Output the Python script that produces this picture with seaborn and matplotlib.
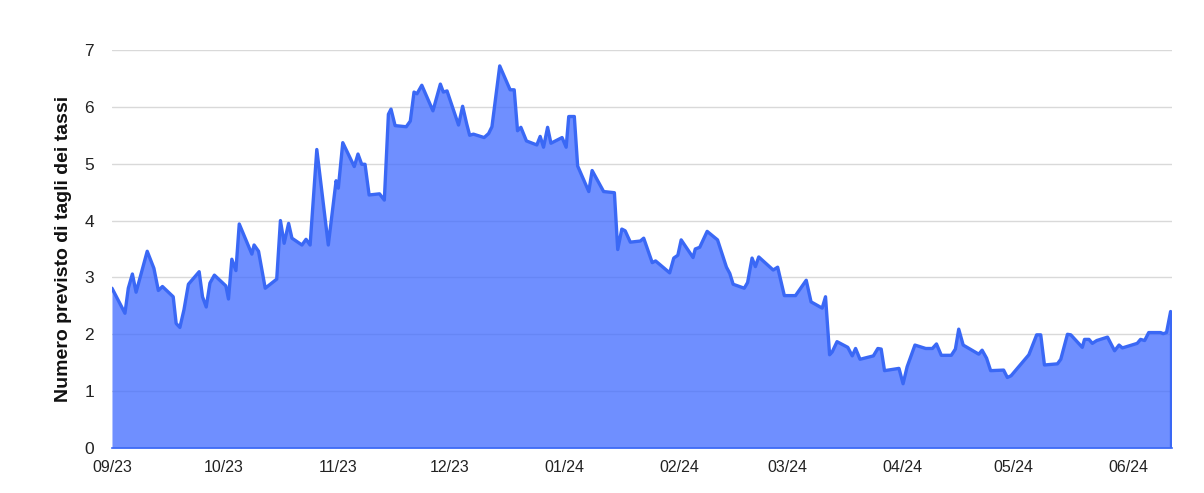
import pandas as pd
import numpy as np
import matplotlib
matplotlib.use("Agg")
import matplotlib.pyplot as plt
import matplotlib.dates as mdates
import seaborn as sns

# giorni dal 01/09/2023 e numero previsto di tagli
giorni = [
    0.0, 3.5, 4.4, 5.5, 6.5, 9.5, 11.3, 12.5, 13.6, 16.5, 17.3, 18.3, 19.4, 20.6,
    23.5, 24.4, 25.4, 26.4, 27.6, 30.7, 31.4, 32.3, 33.4, 34.3, 37.7, 38.3, 39.5,
    41.3, 44.4, 45.4, 46.4, 47.6, 48.5, 51.2, 52.3, 53.4, 55.2, 58.3, 60.4, 61.0,
    62.2, 65.3, 66.3, 67.3, 68.2, 69.3, 72.1, 73.4, 74.5, 75.2, 76.3, 79.3, 80.4,
    81.4, 82.2, 83.5, 86.5, 88.5, 89.3, 90.3, 93.4, 94.5, 95.6, 96.4, 97.4, 100.3,
    101.5, 102.4, 104.5, 107.3, 108.4, 109.3, 110.2, 111.7, 114.5, 115.4, 116.3,
    117.4, 118.3, 121.3, 122.4, 123.1, 124.6, 125.5, 128.5, 129.4, 132.5, 135.4,
    136.3, 137.4, 138.3, 139.7, 142.4, 143.3, 145.6, 146.5, 150.3, 151.4, 152.5,
    153.4, 156.6, 157.2, 158.4, 160.4, 163.2, 165.6, 166.5, 167.4, 170.4, 171.3,
    172.5, 173.4, 174.3, 178.2, 179.4, 181.2, 184.2, 187.1, 188.4, 191.4, 192.3,
    193.4, 194.1, 195.4, 198.3, 199.5, 200.4, 201.6, 205.2, 206.4, 207.3, 208.2,
    212.1, 213.2, 214.3, 216.4, 219.3, 221.1, 222.2, 223.5, 226.2, 227.3, 228.2,
    229.4, 233.6, 234.5, 235.7, 236.8, 240.3, 241.3, 242.3, 244.0, 247.1, 249.2,
    250.3, 251.3, 254.8, 255.7, 257.5, 258.4, 261.5, 262.1, 263.3, 264.2, 265.4,
    268.3, 270.2, 271.4, 272.3, 276.3, 277.2, 278.3, 279.4, 282.6, 283.3, 284.2,
    285.3,
]
tagli = [
    2.81, 2.37, 2.81, 3.06, 2.74, 3.46, 3.16, 2.77, 2.84, 2.66, 2.19, 2.12, 2.43, 2.88,
    3.10, 2.66, 2.48, 2.90, 3.04, 2.85, 2.62, 3.32, 3.12, 3.94, 3.41, 3.57, 3.46,
    2.81, 2.97, 4.00, 3.60, 3.95, 3.69, 3.57, 3.67, 3.57, 5.25, 3.57, 4.70, 4.57,
    5.37, 4.95, 5.17, 4.99, 4.99, 4.45, 4.47, 4.36, 5.87, 5.96, 5.67, 5.65, 5.75,
    6.26, 6.23, 6.38, 5.93, 6.40, 6.26, 6.28, 5.68, 6.01, 5.70, 5.50, 5.52, 5.46,
    5.53, 5.65, 6.72, 6.30, 6.30, 5.58, 5.64, 5.40, 5.33, 5.48, 5.29,
    5.64, 5.36, 5.46, 5.29, 5.83, 5.83, 4.96, 4.51, 4.88, 4.51, 4.49,
    3.49, 3.85, 3.82, 3.62, 3.64, 3.69, 3.26, 3.29, 3.08, 3.34, 3.39,
    3.66, 3.35, 3.50, 3.53, 3.81, 3.66, 3.18, 3.07, 2.88, 2.81, 2.91,
    3.34, 3.19, 3.36, 3.13, 3.18, 2.68, 2.68, 2.95, 2.57, 2.46, 2.66,
    1.64, 1.69, 1.87, 1.77, 1.62, 1.75, 1.56, 1.62, 1.75, 1.74, 1.36,
    1.40, 1.13, 1.43, 1.81, 1.75, 1.75, 1.83, 1.63, 1.63, 1.74, 2.09,
    1.81, 1.65, 1.72, 1.58, 1.36, 1.37, 1.24, 1.27, 1.40, 1.64, 1.99,
    1.99, 1.46, 1.48, 1.56, 2.00, 1.99, 1.77, 1.91, 1.91, 1.84, 1.89,
    1.95, 1.71, 1.81, 1.76, 1.84, 1.91, 1.89, 2.03, 2.03, 2.01, 2.03,
    2.40,
]

df = pd.DataFrame({
    "data": pd.Timestamp("2023-09-01") + pd.to_timedelta(giorni, unit="D"),
    "tagli": tagli,
})

sns.set_style("white")
plt.rcParams["font.family"] = ["Liberation Sans", "DejaVu Sans"]

LINE = "#3a68f5"
FILL = "#426cff"

fig = plt.figure(figsize=(12.04, 4.93), dpi=100)
ax = fig.add_axes([0.093, 0.0913, 0.8805, 0.8073])

ax.fill_between(df["data"], 0, df["tagli"], color=FILL, alpha=0.76, linewidth=0, zorder=2)
sns.lineplot(data=df, x="data", y="tagli", color=LINE, linewidth=2.4, ax=ax, zorder=3)
ax.vlines(df["data"].iloc[-1], 0, df["tagli"].iloc[-1], color=LINE, linewidth=2.4, zorder=3)

ax.set_xlim(df["data"].iloc[0], df["data"].iloc[-1] + pd.Timedelta(days=0.4))
ax.set_ylim(0, 7)
ax.set_yticks(range(0, 8))
ax.yaxis.grid(True, color="#d9d9d9", linewidth=1, zorder=1)
ax.set_axisbelow(True)

ax.xaxis.set_major_locator(mdates.MonthLocator())
ax.xaxis.set_major_formatter(mdates.DateFormatter("%m/%y"))

for s in ["top", "right", "left"]:
    ax.spines[s].set_visible(False)
ax.spines["bottom"].set_color(LINE)
ax.spines["bottom"].set_linewidth(1.2)
ax.spines["bottom"].set_zorder(4)

ax.tick_params(axis="x", length=5, color="#cccccc", labelsize=11.5, pad=4, labelcolor="#222222")
ax.tick_params(axis="y", length=0, labelsize=12.5, pad=13, labelcolor="#222222")

ax.set_xlabel("")
ax.set_ylabel("Numero previsto di tagli dei tassi", fontsize=14, fontweight="bold",
              color="#111111", labelpad=9)

fig.savefig("out.png", dpi=100)
